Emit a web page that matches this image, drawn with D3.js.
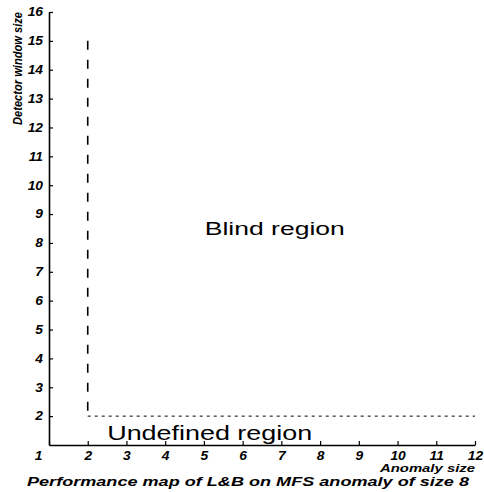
<html>
<title>Performance map</title>
<script src="https://cdn.jsdelivr.net/npm/d3@7"></script>
<style>
body { margin: 0; background: #fff; }
text { font-family: "Liberation Sans", Arial, Helvetica, sans-serif; }
.axis text { font-size: 12px; font-weight: bold; font-style: italic; fill: #000; }
.axis path, .axis line { stroke: #000; }
</style>
<body>
<svg id="chart" width="484" height="492"></svg>
<script>

// data
var xTicks = [1, 2, 3, 4, 5, 6, 7, 8, 9, 10, 11, 12];
var yTicks = [2, 3, 4, 5, 6, 7, 8, 9, 10, 11, 12, 13, 14, 15, 16];
var blindEdge = [{x: 2, y: 15}, {x: 2, y: 2}];
var undefinedEdge = [{x: 2, y: 2}, {x: 12, y: 2}];
var regionNames = ["Blind region", "Undefined region"];
var regionX = [6.83, 5.15];
var regionY = [8.29, 1.17];

var svg = d3.select("#chart");

var x = d3.scaleLinear().domain([1, 12]).range([49, 475]);
var y = d3.scaleLinear().domain([1, 16]).range([445, 12]);

// stretch text a bit wider, the picture looks squashed sideways
function widen(sel, f) {
	sel.each(function () {
		var w = this.getComputedTextLength();
		d3.select(this).attr("textLength", w * f).attr("lengthAdjust", "spacingAndGlyphs");
	});
}

var xAxis = svg.append("g").attr("class", "axis")
	.attr("transform", "translate(0,445)")
	.call(d3.axisBottom(x).tickValues(xTicks).tickFormat(d3.format("d"))
		.tickSizeInner(-4).tickSizeOuter(0).tickPadding(6));

var yAxis = svg.append("g").attr("class", "axis")
	.attr("transform", "translate(49,0)")
	.call(d3.axisLeft(y).tickValues(yTicks).tickFormat(d3.format("d"))
		.tickSizeInner(-4).tickSizeOuter(0).tickPadding(6));

svg.selectAll(".axis path").attr("stroke-width", 1.6);
svg.selectAll(".axis line").attr("stroke-width", 1.2);

// first x label sits left of the corner
xAxis.selectAll(".tick text").filter(function (d) { return d === 1; })
	.attr("dx", -11);

widen(svg.selectAll(".axis .tick text"), 1.15);

var line = d3.line().x(function (d) { return x(d.x); }).y(function (d) { return y(d.y); });

svg.append("path").datum(blindEdge)
	.attr("d", line)
	.attr("fill", "none").attr("stroke", "#000")
	.attr("stroke-width", 1.6)
	.attr("stroke-dasharray", "9,10");

svg.append("path").datum(undefinedEdge)
	.attr("d", line)
	.attr("fill", "none").attr("stroke", "#000")
	.attr("stroke-width", 1)
	.attr("stroke-dasharray", "3,4");

var sizes = [18, 20];
var widths = [140, 205];
regionNames.forEach(function (name, i) {
	svg.append("text")
		.attr("x", x(regionX[i]))
		.attr("y", y(regionY[i]))
		.attr("text-anchor", "middle")
		.style("font-size", sizes[i] + "px")
		.attr("textLength", widths[i])
		.attr("lengthAdjust", "spacingAndGlyphs")
		.text(name);
});

svg.append("text")
	.attr("x", 475).attr("y", 472)
	.attr("text-anchor", "end")
	.style("font-size", "11px").style("font-weight", "bold").style("font-style", "italic")
	.attr("textLength", 95).attr("lengthAdjust", "spacingAndGlyphs")
	.text("Anomaly size");

svg.append("text")
	.attr("transform", "translate(22,12) rotate(-90)")
	.attr("text-anchor", "end")
	.style("font-size", "12px").style("font-weight", "bold").style("font-style", "italic")
	.attr("textLength", 113).attr("lengthAdjust", "spacingAndGlyphs")
	.text("Detector window size");

svg.append("text")
	.attr("x", 248).attr("y", 486)
	.attr("text-anchor", "middle")
	.style("font-size", "13px").style("font-weight", "bold").style("font-style", "italic")
	.attr("textLength", 442).attr("lengthAdjust", "spacingAndGlyphs")
	.text("Performance map of L&B on MFS anomaly of size 8");

</script>
</body>
</html>
